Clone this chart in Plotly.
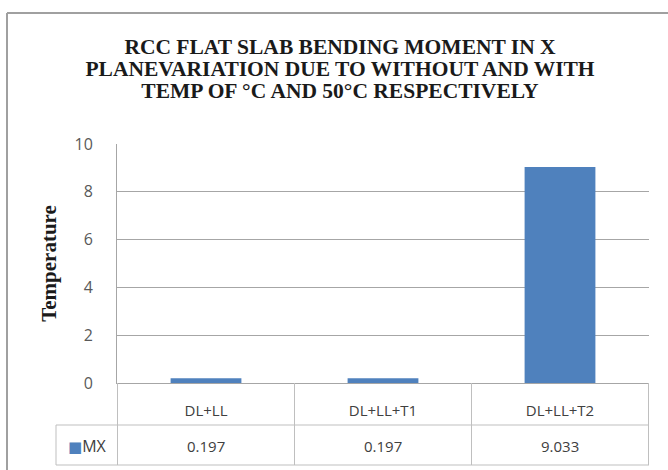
import plotly.graph_objects as go

# ---- data ----
categories = ["DL+LL", "DL+LL+T1", "DL+LL+T2"]
mx_values = [0.197, 0.197, 9.033]
series_name = "MX"
y_ticks = [0, 2, 4, 6, 8, 10]
title_lines = [
    "RCC FLAT SLAB BENDING MOMENT IN X",
    "PLANEVARIATION DUE TO WITHOUT AND WITH",
    "TEMP OF °C AND 50°C RESPECTIVELY",
]
y_title = "Temperature"

# ---- layout geometry (pixels) ----
W, H = 668, 470
L, R, T, B = 117, 19, 144, 87
PW, PH = W - L - R, H - T - B

def py(p):
    return (H - B - p) / PH

def px(p):
    return (p - L) / PW

bar_color = "#4F81BD"
grid_color = "#A6A6A6"
table_color = "#BFBFBF"
text_color = "#404040"
sans = "Open Sans, Noto Sans, sans-serif"
serif = "Liberation Serif, Times New Roman, serif"

fig = go.Figure()
fig.add_trace(go.Bar(
    x=categories, y=mx_values, name=series_name,
    marker=dict(color=bar_color, line=dict(width=0)),
    showlegend=False,
))

shapes = []
# table horizontal lines
for yy in (425, 465):
    shapes.append(dict(type="line", xref="paper", yref="paper",
                       x0=px(56), x1=1, y0=py(yy), y1=py(yy),
                       line=dict(color=table_color, width=1)))
# table vertical lines at category boundaries
n = len(categories)
for i in range(n + 1):
    shapes.append(dict(type="line", xref="x", yref="paper",
                       x0=i - 0.5, x1=i - 0.5, y0=py(383), y1=py(465),
                       line=dict(color=table_color, width=1)))
# legend cell left edge
shapes.append(dict(type="line", xref="paper", yref="paper",
                   x0=px(56), x1=px(56), y0=py(425), y1=py(465),
                   line=dict(color=table_color, width=1)))
# outer chart frame (left and top visible)
shapes.append(dict(type="line", xref="paper", yref="paper",
                   x0=px(7), x1=px(7), y0=py(13), y1=py(480),
                   line=dict(color="#A0A0A0", width=2)))
shapes.append(dict(type="line", xref="paper", yref="paper",
                   x0=px(7), x1=px(680), y0=py(13), y1=py(13),
                   line=dict(color="#A0A0A0", width=2)))

annotations = []
for c, v in zip(categories, mx_values):
    annotations.append(dict(x=c, xref="x", y=py(446), yref="paper",
                            text=f"{v:.3f}", showarrow=False,
                            xanchor="center", yanchor="middle",
                            font=dict(family=sans, size=15, color=text_color)))
annotations.append(dict(x=px(87), xref="paper", y=py(446), yref="paper",
                        text=(f'<span style="color:{bar_color};font-family:DejaVu Sans;'
                              f'font-size:15px">■</span>{series_name}'),
                        showarrow=False, xanchor="center", yanchor="middle",
                        font=dict(family=sans, size=16, color=text_color)))

title_text = "<br>".join(f'<span style="font-size:21.5px">{t}</span>' for t in title_lines)

fig.update_layout(
    width=W, height=H,
    margin=dict(l=L, r=R, t=T, b=B, pad=0),
    paper_bgcolor="white", plot_bgcolor="white",
    title=dict(text=title_text,
               x=340 / W, xref="container", xanchor="center",
               y=1 - 54 / H, yref="container", yanchor="middle",
               font=dict(family=serif, size=17, color="#1a1a1a", weight="bold")),
    bargap=0.6,
    shapes=shapes,
    annotations=annotations,
)
fig.update_yaxes(
    range=[0, 10], tickvals=y_ticks, showgrid=True, gridcolor=grid_color,
    gridwidth=1, showline=True, linecolor=grid_color, linewidth=1,
    zeroline=False, ticks="", ticklabelstandoff=20,
    tickfont=dict(family=sans, size=16, color="#595959"),
    title=dict(text=y_title, standoff=12,
               font=dict(family=serif, size=21, color="#1a1a1a", weight="bold")),
    fixedrange=True,
)
fig.update_xaxes(
    showline=True, linecolor=grid_color, linewidth=1, showgrid=False,
    ticks="", ticklabelstandoff=14,
    tickfont=dict(family=sans, size=15, color=text_color),
    fixedrange=True,
)

fig.write_html("out.html", config=dict(displayModeBar=False),
               post_script="document.body.style.margin='0';")
